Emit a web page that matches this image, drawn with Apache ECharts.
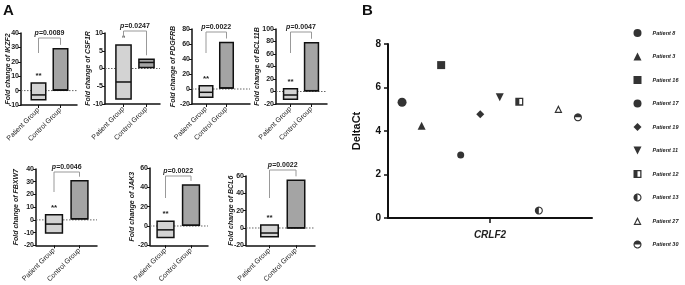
<!DOCTYPE html>
<html><head><meta charset="utf-8">
<script src="https://cdn.jsdelivr.net/npm/echarts@6/dist/echarts.min.js"></script>
<style>html,body{margin:0;padding:0;background:#fff}#c{width:685px;height:285px}</style>
</head><body><div id="c"></div>
<script>
// ---------- Panel A data ----------
const genes = ['IKZF2','CSF1R','PDGFRB','BCL11B','FBXW7','JAK3','BCL6'];
const groups = ['Patient Group','Control Group'];
const patientLow    = [-6.4, -8.6, -11, -12.5, -10.3, -12, -10];
const patientMedian = [-3.0, -3.8, -4.4, -5.6, -3.3, -4, -5.8];
const patientHigh   = [5.3, 6.6, 4.4, 4.5, 4.1, 5, 3.4];
const controlLow    = [0.3, 0.3, 1.3, 1.3, 0.8, 0.7, 0];
const controlMedian = [0.5, 1.7, 1.3, 1.3, 0.8, 0.7, 0.3];
const controlHigh   = [29, 2.6, 62, 78, 30.8, 42.5, 55];
const pValues = ['0.0089','0.0247','0.0022','0.0047','0.0046','0.0022','0.0022'];
const stars   = ['**','*','**','**','**','**','**'];
const yMin = [-10,-10,-20,-20,-20,-20,-20];
const yMax = [40,10,80,100,40,60,60];
const yInterval = [10,5,20,20,10,20,20];

// ---------- Panel B data ----------
const patients = ['Patient 8','Patient 3','Patient 16','Patient 17','Patient 19','Patient 11','Patient 12','Patient 13','Patient 27','Patient 30'];
const deltaCt  = [5.32, 4.24, 7.03, 2.9, 4.77, 5.55, 5.35, 0.34, 5.01, 4.63];
const bCategory = 'CRLF2';
const bTicks = [0,2,4,6,8];

// ---------- layout (pixels) ----------
const layout = [
 {ax:21,  top:33,  bottom:105, end:77,  pc:38.5,  cc:60.5, br:38,  leg:53,  ng:9.5},
 {ax:105, top:33,  bottom:104, end:160, pc:123.5, cc:146.5,br:31,  leg:37,  ng:13.5},
 {ax:192, top:29,  bottom:104, end:250, pc:206,   cc:226.5,br:32,  leg:53,  ng:15.5},
 {ax:276, top:29,  bottom:104, end:327, pc:290.5, cc:311.5,br:32,  leg:53,  ng:15.5},
 {ax:36,  top:169, bottom:247, end:97,  pc:54,    cc:79.5, br:172, leg:192, ng:16.5},
 {ax:150, top:168, bottom:249, end:208, pc:165.5, cc:191,  br:176, leg:198, ng:14},
 {ax:246, top:176, bottom:249, end:315, pc:269.5, cc:296,  br:170, leg:198, ng:11}
];

function circ(cx, cy, r, cw){
  const n=28; let s='';
  for(let k=0;k<=n;k++){
    const a = (cw?1:-1)*2*Math.PI*k/n;
    const x=cx+r*Math.cos(a), y=cy+r*Math.sin(a);
    s += (k===0?'M':'L')+x.toFixed(3)+','+y.toFixed(3);
  }
  return s+'Z';
}
function halfDisc(cx, cy, r, a0){
  const n=14; let s='';
  for(let k=0;k<=n;k++){
    const a = a0 + Math.PI*k/n;
    s += (k===0?'M':'L')+(cx+r*Math.cos(a)).toFixed(3)+','+(cy+r*Math.sin(a)).toFixed(3);
  }
  return s+'Z';
}
const ring = circ(5,5,5,true)+circ(5,5,3.6,false);
const symbols = [
 'circle','triangle','rect','circle','diamond',
 'path://M0,0L10,0L5,10Z',
 'path://M0,0L10,0L10,10L0,10Z M1.6,1.6L1.6,8.4L8.4,8.4L8.4,1.6Z M0,0L5,0L5,10L0,10Z',
 'path://'+ring+halfDisc(5,5,5,Math.PI/2),
 'path://M5,0L10,10L0,10Z M5,3.4L2.3,8.5L7.7,8.5Z',
 'path://'+ring+halfDisc(5,5,5,Math.PI)
];
const symSizes = [9,8,8,7,8,8,8,8,8,8];

const font = '"Liberation Sans", Arial, sans-serif';
const grids=[], xAxes=[], yAxes=[], series=[];

layout.forEach((L,i)=>{
  const unit = L.cc - L.pc;
  grids.push({left:L.ax, top:L.top, width:L.end-L.ax, height:L.bottom-L.top});
  xAxes.push({type:'value', gridIndex:i, min:1-(L.pc-L.ax)/unit, max:2+(L.end-L.cc)/unit,
    axisLine:{show:true, onZero:false, lineStyle:{color:'#111', width:1.5}},
    axisTick:{show:true, customValues:[1,2], length:3, lineStyle:{color:'#111', width:1}},
    axisLabel:{customValues:[1,2], rotate:45, fontSize:7, color:'#222', margin:4, fontFamily:font,
      formatter:v=>groups[Math.round(v)-1]},
    splitLine:{show:false}});
  yAxes.push({type:'value', gridIndex:i, min:yMin[i], max:yMax[i], interval:yInterval[i],
    name:'Fold change of '+genes[i], nameLocation:'middle', nameGap:L.ng, nameMoveOverlap:false,
    nameTextStyle:{fontSize:7, fontStyle:'italic', fontWeight:'bold', color:'#222', fontFamily:font},
    axisLine:{show:true, lineStyle:{color:'#111', width:1.5}},
    axisTick:{show:true, length:3, lineStyle:{color:'#111', width:1}},
    axisLabel:{fontSize:7, fontWeight:'bold', color:'#222', margin:2, fontFamily:font},
    splitLine:{show:false}});
  series.push({type:'custom', xAxisIndex:i, yAxisIndex:i, z:1, silent:true, clip:false,
    data:[[1.5,0]], encode:{x:0,y:1},
    renderItem:(params, api)=>{
      const cs = params.coordSys;
      const p0 = api.coord([1,0]), c0 = api.coord([2,0]);
      const pTop = api.coord([1,patientHigh[i]])[1];
      const cTop = api.coord([2,controlHigh[i]])[1];
      return {type:'group', children:[
        {type:'line', shape:{x1:cs.x, y1:p0[1], x2:cs.x+cs.width, y2:p0[1]},
          style:{stroke:'#666', lineWidth:1, lineDash:[1.5,1.5]}},
        {type:'text', x:p0[0], y:pTop-7, style:{text:stars[i], fontSize:8, fontWeight:'bold',
          align:'center', verticalAlign:'middle', fill:'#222', fontFamily:font}},
        {type:'polyline', shape:{points:[[p0[0],L.leg],[p0[0],L.br],[c0[0],L.br],[c0[0],cTop-4]]},
          style:{stroke:'#999', lineWidth:1, fill:null}},
        {type:'text', x:(p0[0]+c0[0])/2, y:L.br-5, style:{
          text:'{i|p}{b|='+pValues[i]+'}', align:'center', verticalAlign:'middle',
          rich:{i:{fontSize:7, fontStyle:'italic', fontWeight:'bold', fill:'#222', fontFamily:font},
                b:{fontSize:7, fontWeight:'bold', fill:'#222', fontFamily:font}}}}
      ]};
    }});
  series.push({type:'custom', xAxisIndex:i, yAxisIndex:i, z:2, silent:true,
    data:[[1, patientLow[i], patientMedian[i], patientHigh[i], 0],
          [2, controlLow[i], controlMedian[i], controlHigh[i], 1]],
    encode:{x:0, y:[1,2,3]},
    renderItem:(params, api)=>{
      const x=api.value(0), g=api.value(4);
      const t=api.coord([x,api.value(3)]), b=api.coord([x,api.value(1)]), m=api.coord([x,api.value(2)]);
      const w=(api.coord([2,0])[0]-api.coord([1,0])[0])*0.66;
      return {type:'group', children:[
        {type:'rect', shape:{x:t[0]-w/2, y:t[1], width:w, height:b[1]-t[1]},
          style:{fill:g?'#a4a4a4':'#d3d3d3', stroke:'#111', lineWidth:1.5}},
        {type:'line', shape:{x1:t[0]-w/2, y1:m[1], x2:t[0]+w/2, y2:m[1]},
          style:{stroke:'#111', lineWidth:1.5}}
      ]};
    }});
});

// Panel B
grids.push({left:388, top:44, width:204, height:174});
xAxes.push({type:'value', gridIndex:7, min:0.28, max:10.72,
  axisLine:{show:true, onZero:false, lineStyle:{color:'#111', width:2}},
  axisTick:{show:true, customValues:[5.5], length:5, lineStyle:{color:'#111', width:1.5}},
  axisLabel:{customValues:[5.5], formatter:()=>bCategory, fontSize:10, fontStyle:'italic',
    fontWeight:'bold', color:'#222', margin:12, fontFamily:font},
  splitLine:{show:false}});
yAxes.push({type:'value', gridIndex:7, min:bTicks[0], max:bTicks[bTicks.length-1], interval:bTicks[1]-bTicks[0],
  name:'DeltaCt', nameLocation:'middle', nameGap:26, nameMoveOverlap:false,
  nameTextStyle:{fontSize:11, fontWeight:'bold', color:'#111', fontFamily:font},
  axisLine:{show:true, lineStyle:{color:'#111', width:2}},
  axisTick:{show:true, length:4, lineStyle:{color:'#111', width:1.5}},
  axisLabel:{fontSize:10, fontWeight:'bold', color:'#111', margin:7, fontFamily:font},
  splitLine:{show:false}});
patients.forEach((p,k)=>{
  series.push({type:'scatter', name:p, xAxisIndex:7, yAxisIndex:7,
    symbol:symbols[k], symbolSize:symSizes[k], itemStyle:{color:'#000'},
    data:[[k+1, deltaCt[k]]], silent:true});
});

const chart = echarts.init(document.getElementById('c'), null, {renderer:'canvas'});
chart.setOption({
  animation:false,
  backgroundColor:'#fff',
  grid:grids, xAxis:xAxes, yAxis:yAxes, series:series,
  legend:{data:patients, orient:'vertical', left:633.5, top:29, padding:0, itemWidth:8, itemHeight:8,
    itemGap:15.5, selectedMode:false,
    textStyle:{fontSize:5.5, fontStyle:'italic', fontWeight:'bold', color:'#222', lineHeight:8,
      padding:[0,0,0,6], fontFamily:font}},
  graphic:[
    {type:'text', left:3, top:3, style:{text:'A', fontSize:15, fontWeight:'bold', fill:'#111', fontFamily:font}},
    {type:'text', left:362, top:3, style:{text:'B', fontSize:15, fontWeight:'bold', fill:'#111', fontFamily:font}}
  ]
});
</script></body></html>
